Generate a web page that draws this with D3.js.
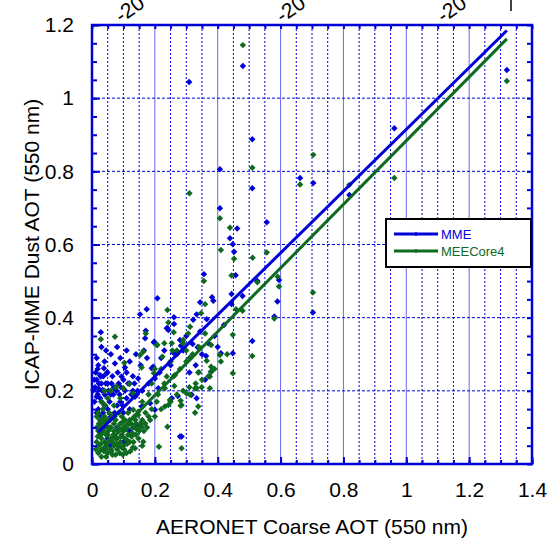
<!doctype html>
<html lang="en">

<head>
  <meta charset="UTF-8">
  <title>ICAP-MME vs AERONET</title>
  <style type="text/css">
    body { margin: 0; background: #fff; }
    text { font-family: "Liberation Sans", Arial, sans-serif; }
  </style>
  <script src="https://cdn.jsdelivr.net/npm/d3@7"></script>
</head>

<body>
  <svg width="549" height="542"></svg>
  <script>
    // values
    let seriesNames = ["MME", "MEECore4"]
    let xTicks = [0, 0.2, 0.4, 0.6, 0.8, 1, 1.2, 1.4]
    let xTickLabels = ["0", "0.2", "0.4", "0.6", "0.8", "1", "1.2", "1.4"]
    let yTicks = [0, 0.2, 0.4, 0.6, 0.8, 1, 1.2]
    let yTickLabels = ["0", "0.2", "0.4", "0.6", "0.8", "1", "1.2"]
    let topLabels = ["-20", "-20", "-20"]

    // [aeronet, model]
    let mmePoints = [
      [0.48, 1.088], [0.309, 1.044], [1.32, 1.077], [0.962, 0.918], [0.662, 0.782], [0.704, 0.768],
      [0.819, 0.735], [0.51, 0.888], [0.51, 0.754], [0.407, 0.806], [0.407, 0.699], [0.462, 0.644],
      [0.556, 0.661], [0.439, 0.617], [0.448, 0.601], [0.452, 0.58], [0.356, 0.519], [0.457, 0.516],
      [0.526, 0.50], [0.595, 0.503], [0.208, 0.453], [0.382, 0.456], [0.444, 0.465], [0.479, 0.459],
      [0.344, 0.442], [0.386, 0.446], [0.444, 0.437], [0.703, 0.414], [0.59, 0.444], [0.58, 0.403],
      [0.261, 0.401], [0.261, 0.383], [0.238, 0.371], [0.243, 0.366], [0.322, 0.394], [0.333, 0.409],
      [0.365, 0.396], [0.344, 0.362], [0.198, 0.334], [0.28, 0.339], [0.283, 0.323], [0.32, 0.328],
      [0.336, 0.319], [0.448, 0.303], [0.41, 0.303], [0.51, 0.336], [0.363, 0.295], [0.259, 0.304],
      [0.312, 0.289], [0.379, 0.252], [0.195, 0.266], [0.153, 0.409], [0.174, 0.423], [0.028, 0.36],
      [0.171, 0.364], [0.24, 0.371], [0.197, 0.332], [0.169, 0.344], [0.073, 0.275], [0.105, 0.264],
      [0.038, 0.262], [0.049, 0.251], [0.028, 0.239], [0.094, 0.239], [0.1, 0.23], [0.147, 0.234],
      [0.19, 0.262], [0.004, 0.202], [0.02, 0.207], [0.034, 0.202], [0.015, 0.184], [0.041, 0.189],
      [0.137, 0.184], [0.211, 0.207], [0.254, 0.18], [0.273, 0.186], [0.317, 0.189], [0.333, 0.18],
      [0.285, 0.075], [0.161, 0.157], [0.025, 0.243], [0.047, 0.248], [0.2, 0.234], [0.142, 0.189],
      [0.158, 0.157], [0.185, 0.166], [0.2, 0.148], [0.28, 0.075], [0.142, 0.107],
      [0.22, 0.29], [0.23, 0.31], [0.25, 0.27], [0.27, 0.30], [0.29, 0.31], [0.30, 0.35], [0.215, 0.25],
      [0.18, 0.22], [0.16, 0.20], [0.12, 0.22], [0.13, 0.20], [0.11, 0.18], [0.09, 0.17], [0.06, 0.19],
      [0.07, 0.21], [0.08, 0.16], [0.05, 0.15], [0.03, 0.17], [0.02, 0.15], [0.06, 0.13], [0.04, 0.12],
      [0.10, 0.14], [0.12, 0.15], [0.03, 0.22], [0.015, 0.23], [0.01, 0.21], [0.05, 0.22], [0.065, 0.24],
      [0.085, 0.22], [0.11, 0.25], [0.13, 0.24], [0.155, 0.27], [0.175, 0.29], [0.165, 0.31], [0.14, 0.30],
      [0.12, 0.28], [0.09, 0.29], [0.06, 0.30], [0.04, 0.28], [0.02, 0.27], [0.045, 0.31], [0.03, 0.32],
      [0.015, 0.29], [0.08, 0.32], [0.11, 0.31], [0.03, 0.09], [0.05, 0.07], [0.08, 0.10], [0.10, 0.06],
      [0.06, 0.05], [0.12, 0.09], [0.04, 0.04], [0.33, 0.27], [0.35, 0.30], [0.31, 0.25], [0.37, 0.33],
      [0.39, 0.35], [0.42, 0.38], [0.40, 0.32], [0.36, 0.23],
      [0.008, 0.17], [0.012, 0.25], [0.018, 0.19], [0.022, 0.22], [0.026, 0.18], [0.032, 0.20],
      [0.036, 0.24], [0.04, 0.16], [0.044, 0.22], [0.052, 0.20], [0.056, 0.17], [0.062, 0.22],
      [0.068, 0.19], [0.072, 0.14], [0.078, 0.20], [0.082, 0.25], [0.088, 0.19], [0.092, 0.21],
      [0.098, 0.16], [0.105, 0.20], [0.115, 0.22], [0.125, 0.19], [0.135, 0.22], [0.145, 0.20],
      [0.015, 0.14], [0.025, 0.13], [0.035, 0.14], [0.055, 0.12], [0.008, 0.23], [0.018, 0.26]
    ]

    let corePoints = [
      [0.48, 1.145], [1.32, 1.047], [0.962, 0.782], [0.662, 0.764], [0.704, 0.845], [0.819, 0.763],
      [0.51, 0.81], [0.31, 0.74], [0.407, 0.672], [0.439, 0.646], [0.556, 0.578], [0.41, 0.585],
      [0.452, 0.561], [0.511, 0.564], [0.356, 0.5], [0.444, 0.515], [0.526, 0.497], [0.591, 0.512],
      [0.595, 0.485], [0.36, 0.437], [0.458, 0.423], [0.479, 0.419], [0.703, 0.469], [0.58, 0.398],
      [0.24, 0.421], [0.243, 0.387], [0.347, 0.412], [0.312, 0.375], [0.306, 0.357], [0.36, 0.357],
      [0.206, 0.325], [0.29, 0.339], [0.254, 0.33], [0.256, 0.31], [0.379, 0.325], [0.448, 0.353],
      [0.407, 0.298], [0.51, 0.295], [0.224, 0.293], [0.365, 0.282], [0.379, 0.266], [0.448, 0.248],
      [0.375, 0.239], [0.34, 0.251], [0.028, 0.341], [0.073, 0.348], [0.171, 0.357], [0.208, 0.325],
      [0.153, 0.298], [0.163, 0.307], [0.103, 0.277], [0.158, 0.264], [0.197, 0.248], [0.076, 0.21],
      [0.1, 0.207], [0.131, 0.193], [0.243, 0.161], [0.282, 0.159], [0.232, 0.207], [0.262, 0.213],
      [0.282, 0.173], [0.301, 0.193], [0.338, 0.157], [0.328, 0.207], [0.349, 0.21], [0.285, 0.043],
      [0.213, 0.047], [0.147, 0.134], [0.158, 0.102], [0.185, 0.12], [0.11, 0.066], [0.137, 0.043],
      [0.098, 0.025], [0.126, 0.075], [0.079, 0.211], [0.119, 0.219], [0.238, 0.239], [0.264, 0.243],
      [0.338, 0.25], [0.378, 0.252], [0.333, 0.207], [0.375, 0.207], [0.041, 0.161], [0.131, 0.148],
      [0.147, 0.143], [0.206, 0.17], [0.232, 0.157], [0.248, 0.175], [0.285, 0.161], [0.312, 0.189],
      [0.328, 0.14], [0.24, 0.102], [0.169, 0.111], [0.163, 0.061], [0.153, 0.102],
      [0.02, 0.05], [0.03, 0.07], [0.04, 0.06], [0.05, 0.08], [0.06, 0.10], [0.07, 0.09], [0.08, 0.07],
      [0.09, 0.11], [0.10, 0.09], [0.11, 0.10], [0.12, 0.12], [0.13, 0.10], [0.14, 0.08], [0.02, 0.09],
      [0.03, 0.11], [0.04, 0.10], [0.05, 0.12], [0.06, 0.07], [0.07, 0.05], [0.08, 0.04], [0.09, 0.06],
      [0.10, 0.05], [0.11, 0.03], [0.12, 0.06], [0.02, 0.03], [0.03, 0.04], [0.05, 0.03], [0.06, 0.04],
      [0.04, 0.13], [0.025, 0.12], [0.035, 0.15], [0.055, 0.14], [0.065, 0.13], [0.075, 0.12],
      [0.085, 0.14], [0.095, 0.13], [0.105, 0.12], [0.115, 0.14], [0.125, 0.11], [0.135, 0.13],
      [0.045, 0.08], [0.015, 0.06], [0.015, 0.10], [0.03, 0.02], [0.045, 0.045], [0.065, 0.06],
      [0.085, 0.09], [0.095, 0.08], [0.105, 0.07], [0.115, 0.08], [0.07, 0.11], [0.05, 0.10],
      [0.035, 0.09], [0.025, 0.08], [0.055, 0.065], [0.065, 0.025], [0.075, 0.07], [0.085, 0.05],
      [0.10, 0.10], [0.14, 0.11], [0.15, 0.09], [0.16, 0.12], [0.17, 0.14], [0.18, 0.13], [0.19, 0.15],
      [0.02, 0.14], [0.03, 0.17], [0.05, 0.18], [0.07, 0.16], [0.09, 0.18], [0.06, 0.20], [0.04, 0.20],
      [0.20, 0.13], [0.22, 0.15], [0.25, 0.17], [0.27, 0.19], [0.29, 0.20], [0.31, 0.21], [0.33, 0.22],
      [0.35, 0.23], [0.37, 0.24], [0.39, 0.26], [0.41, 0.28], [0.43, 0.30], [0.21, 0.19], [0.23, 0.22],
      [0.26, 0.24], [0.28, 0.26], [0.30, 0.28], [0.32, 0.30], [0.34, 0.32], [0.25, 0.28], [0.27, 0.31],
      [0.29, 0.33], [0.22, 0.26], [0.18, 0.19], [0.16, 0.17], [0.19, 0.22], [0.20, 0.26], [0.23, 0.33],
      [0.26, 0.36], [0.30, 0.31], [0.31, 0.29],
      [0.012, 0.04], [0.018, 0.075], [0.022, 0.11], [0.028, 0.055], [0.033, 0.085], [0.038, 0.035],
      [0.042, 0.115], [0.048, 0.055], [0.052, 0.09], [0.058, 0.12], [0.062, 0.035], [0.068, 0.08],
      [0.072, 0.13], [0.078, 0.055], [0.082, 0.10], [0.088, 0.03], [0.092, 0.075], [0.098, 0.115],
      [0.102, 0.04], [0.108, 0.095], [0.112, 0.055], [0.118, 0.11], [0.122, 0.035], [0.128, 0.085],
      [0.132, 0.06], [0.138, 0.12], [0.142, 0.095], [0.148, 0.07], [0.155, 0.11], [0.165, 0.09],
      [0.175, 0.10], [0.045, 0.02], [0.075, 0.025], [0.055, 0.10], [0.035, 0.125], [0.025, 0.10],
      [0.015, 0.13], [0.095, 0.045], [0.13, 0.045], [0.16, 0.05]
    ]

    // linear fits, end points
    let fitX = [0.02, 1.32]
    let mmeFit = [0.087, 1.185]
    let coreFit = [0.031, 1.162]

    let blue = "#0000d8"
    let green = "#0e6a1e"

    let svg = d3.select("svg")
    let mLeft = 92, mRight = 532, mTop = 25, mBottom = 464

    let x = d3.scaleLinear().domain([0, 1.4]).range([mLeft, mRight])
    let y = d3.scaleLinear().domain([0, 1.2]).range([mBottom, mTop])

    let xMinor = d3.range(0, 1.4001, 0.05)
    let yMinor = d3.range(0, 1.2001, 0.05)
    let isMajor = function (v) {
      return Math.abs(v / 0.2 - Math.round(v / 0.2)) < 1e-6
    }

    // grid
    let grid = svg.append("g")
    grid.selectAll(".vg")
      .data(xMinor.filter(function (v) { return v > 0.001 && v < 1.399 }))
      .enter().append("line")
      .attr("x1", function (d) { return x(d) }).attr("x2", function (d) { return x(d) })
      .attr("y1", mTop).attr("y2", mBottom)
      .attr("stroke", function (d) { return isMajor(d) ? "#6a6af2" : blue })
      .attr("stroke-width", 1)
      .attr("stroke-dasharray", function (d) { return isMajor(d) ? null : "2,2" })
    grid.selectAll(".hg")
      .data(yTicks.filter(function (v) { return v > 0 && v < 1.2 }))
      .enter().append("line")
      .attr("x1", mLeft).attr("x2", mRight)
      .attr("y1", function (d) { return y(d) }).attr("y2", function (d) { return y(d) })
      .attr("stroke", blue)
      .attr("stroke-width", 1)
      .attr("stroke-dasharray", "3,2")

    // points
    let diamond = d3.symbol().type(d3.symbolSquare).size(21)
    svg.append("g").selectAll("path")
      .data(mmePoints)
      .enter().append("path")
      .attr("d", diamond)
      .attr("transform", function (d) { return "translate(" + x(d[0]) + "," + y(d[1]) + ") rotate(45)" })
      .attr("fill", blue)
    svg.append("g").selectAll("path")
      .data(corePoints)
      .enter().append("path")
      .attr("d", diamond)
      .attr("transform", function (d) { return "translate(" + x(d[0]) + "," + y(d[1]) + ") rotate(45)" })
      .attr("fill", green)

    // fit lines
    let line = d3.line()
      .x(function (d) { return x(d[0]) })
      .y(function (d) { return y(d[1]) })
    svg.append("path")
      .datum(fitX.map(function (v, i) { return [v, mmeFit[i]] }))
      .attr("d", line).attr("fill", "none").attr("stroke", blue).attr("stroke-width", 3)
    svg.append("path")
      .datum(fitX.map(function (v, i) { return [v, coreFit[i]] }))
      .attr("d", line).attr("fill", "none").attr("stroke", green).attr("stroke-width", 3)

    // axes: ticks inside on all four sides
    let addTicks = function (axis, offset) {
      let g = svg.append("g").attr("transform", offset).call(axis)
      g.select(".domain").remove()
      g.selectAll(".tick line").attr("stroke", blue).attr("stroke-width", 2)
      return g
    }
    addTicks(d3.axisBottom(x).tickValues(xMinor).tickSize(-4).tickFormat(""), "translate(0," + mBottom + ")")
    addTicks(d3.axisTop(x).tickValues(xMinor).tickSize(-4).tickFormat(""), "translate(0," + mTop + ")")
    addTicks(d3.axisLeft(y).tickValues(yMinor).tickSize(-5).tickFormat(""), "translate(" + mLeft + ",0)")
    addTicks(d3.axisRight(y).tickValues(yMinor).tickSize(-5).tickFormat(""), "translate(" + mRight + ",0)")

    addTicks(d3.axisBottom(x).tickValues(xTicks).tickSize(-7).tickPadding(18)
      .tickFormat(function (d, i) { return xTickLabels[i] }), "translate(0," + mBottom + ")")
    addTicks(d3.axisLeft(y).tickValues(yTicks).tickSize(-8).tickPadding(18)
      .tickFormat(function (d, i) { return yTickLabels[i] }), "translate(" + mLeft + ",0)")
    svg.selectAll(".tick text")
      .attr("fill", "#000")
      .style("font-size", "21px")
      .style("font-family", "'Liberation Sans', Arial, sans-serif")

    svg.append("rect")
      .attr("x", mLeft).attr("y", mTop)
      .attr("width", mRight - mLeft).attr("height", mBottom - mTop)
      .attr("fill", "none").attr("stroke", blue).attr("stroke-width", 2.5)

    // titles
    svg.append("text")
      .attr("x", (mLeft + mRight) / 2).attr("y", 534)
      .attr("text-anchor", "middle").style("font-size", "21px")
      .text("AERONET Coarse AOT (550 nm)")
    svg.append("text")
      .attr("transform", "translate(39," + ((mTop + mBottom) / 2) + ") rotate(-90)")
      .attr("text-anchor", "middle").style("font-size", "21px")
      .text("ICAP-MME Dust AOT (550 nm)")

    // labels of the panel above, cut by the top edge
    svg.selectAll(".toplab")
      .data(topLabels)
      .enter().append("text")
      .attr("transform", function (d, i) { return "translate(" + (146 + i * 161) + ",6) rotate(-35)" })
      .attr("text-anchor", "end").style("font-size", "21px")
      .text(function (d) { return d })
    svg.append("line")
      .attr("x1", 511).attr("x2", 511).attr("y1", 0).attr("y2", 11)
      .attr("stroke", "#000").attr("stroke-width", 1.5)

    // legend
    let legend = svg.append("g")
    legend.append("rect")
      .attr("x", 386).attr("y", 219).attr("width", 145).attr("height", 48)
      .attr("fill", "#fff").attr("stroke", "#000").attr("stroke-width", 2)
    let items = legend.selectAll(".item")
      .data(seriesNames)
      .enter().append("g")
      .attr("transform", function (d, i) { return "translate(0," + (234 + i * 17) + ")" })
    items.append("line")
      .attr("x1", 394).attr("x2", 438)
      .attr("stroke", function (d, i) { return i ? green : blue })
      .attr("stroke-width", 3)
    items.append("path")
      .attr("d", d3.symbol().type(d3.symbolSquare).size(10))
      .attr("transform", "translate(416,0) rotate(45)")
      .attr("fill", function (d, i) { return i ? green : blue })
    items.append("text")
      .attr("x", 441).attr("y", 5)
      .style("font-size", "13px")
      .attr("fill", function (d, i) { return i ? green : blue })
      .text(function (d) { return d })
  </script>
</body>

</html>
